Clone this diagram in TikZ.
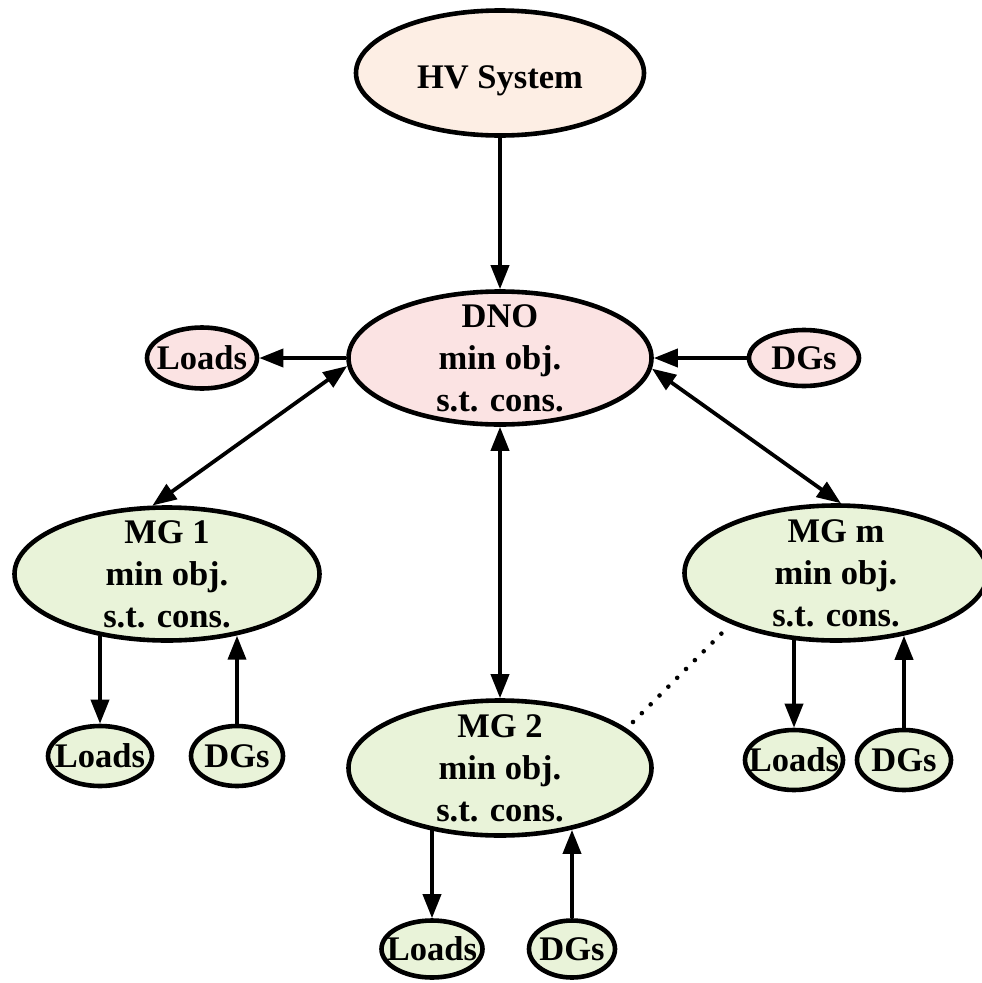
\documentclass[tikz,border=0pt]{standalone}
\usepackage{fontspec}
\setmainfont{Liberation Serif}
\usetikzlibrary{shapes.geometric,arrows.meta}
\definecolor{hvfill}{RGB}{253,238,228}
\definecolor{dnofill}{RGB}{251,227,227}
\definecolor{mgfill}{RGB}{233,243,217}

\begin{document}
\begin{tikzpicture}[x=1pt,y=-1pt,
  bubble/.style={ellipse, draw=black, line width=4.6pt, inner sep=0pt},
  hvbubble/.style={bubble, fill=hvfill},
  dnobubble/.style={bubble, fill=dnofill},
  mgbubble/.style={bubble, fill=mgfill},
  nodetext/.style={font=\fontsize{34.5}{42}\selectfont\bfseries, align=center, inner sep=0pt},
  flow/.style={line width=3.8pt, -{Triangle[length=24pt,width=18pt]}},
  both/.style={line width=3.8pt, {Triangle[length=24pt,width=18pt]}-{Triangle[length=24pt,width=18pt]}},
  link/.style={line width=4.6pt, line cap=round, dash pattern=on 0pt off 12.5pt}
]
\useasboundingbox (0,0) rectangle (982,983);

% upper level
\node[hvbubble, minimum width=288pt, minimum height=125pt] (hv) at (500,73) {};
\node[nodetext] (hvtext) at (500,81) {HV System};

\node[dnobubble, minimum width=303pt, minimum height=133pt] (dno) at (500,358) {};
\node[nodetext] (dnotext) at (dno) {DNO\\min obj.\\s.t. cons.};

\node[dnobubble, minimum width=110pt, minimum height=61pt] (loadsD) at (202,358) {};
\node[nodetext] (loadsDtext) at (loadsD) {Loads};
\node[dnobubble, minimum width=110pt, minimum height=56pt] (dgsD) at (804,358) {};
\node[nodetext] (dgsDtext) at (dgsD) {DGs};

% microgrids
\node[mgbubble, minimum width=305pt, minimum height=133pt] (mg1) at (167,574) {};
\node[nodetext] (mg1text) at (mg1) {MG 1\\min obj.\\s.t. cons.};
\node[mgbubble, minimum width=303pt, minimum height=135pt] (mg2) at (500,768) {};
\node[nodetext] (mg2text) at (mg2) {MG 2\\min obj.\\s.t. cons.};
\node[mgbubble, minimum width=303pt, minimum height=135pt] (mgm) at (836,573) {};
\node[nodetext] (mgmtext) at (mgm) {MG m\\min obj.\\s.t. cons.};

% local loads and generation
\node[mgbubble, minimum width=104pt, minimum height=60pt] (l1) at (100,756) {};
\node[nodetext] (l1text) at (l1) {Loads};
\node[mgbubble, minimum width=92pt, minimum height=60pt] (g1) at (237,756) {};
\node[nodetext] (g1text) at (g1) {DGs};
\node[mgbubble, minimum width=101pt, minimum height=57pt] (l2) at (432,949) {};
\node[nodetext] (l2text) at (l2) {Loads};
\node[mgbubble, minimum width=86pt, minimum height=57pt] (g2) at (572,949) {};
\node[nodetext] (g2text) at (g2) {DGs};
\node[mgbubble, minimum width=98pt, minimum height=60pt] (lm) at (794,760) {};
\node[nodetext] (lmtext) at (lm) {Loads};
\node[mgbubble, minimum width=94pt, minimum height=60pt] (gm) at (904,760) {};
\node[nodetext] (gmtext) at (gm) {DGs};

% connectors
\draw[flow] (hv) -- (dno);
\draw[flow] (dno.west) -- (loadsD.east);
\draw[flow] (dgsD.west) -- (dno.east);
\draw[both] (dno.183.4) -- (mg1.102);
\draw[both] (dno.356.6) -- (mgm.86);
\draw[both] (dno) -- (mg2);

\draw[flow] (mg1.222.9 -| l1.north) -- (l1.north);
\draw[flow] (g1.north) -- (mg1.318.7 -| g1.north);
\draw[flow] (mg2.222.7 -| l2.north) -- (l2.north);
\draw[flow] (g2.north) -- (mg2.319.3 -| g2.north);
\draw[flow] (mgm.238 -| lm.north) -- (lm.north);
\draw[flow] (gm.north) -- (mgm.317.3 -| gm.north);

% further microgrids between MG 2 and MG m
\coordinate (dotA) at (633,722);
\coordinate (dotB) at (722,633);
\draw[link] (dotA) -- (dotB);
\end{tikzpicture}
\end{document}
